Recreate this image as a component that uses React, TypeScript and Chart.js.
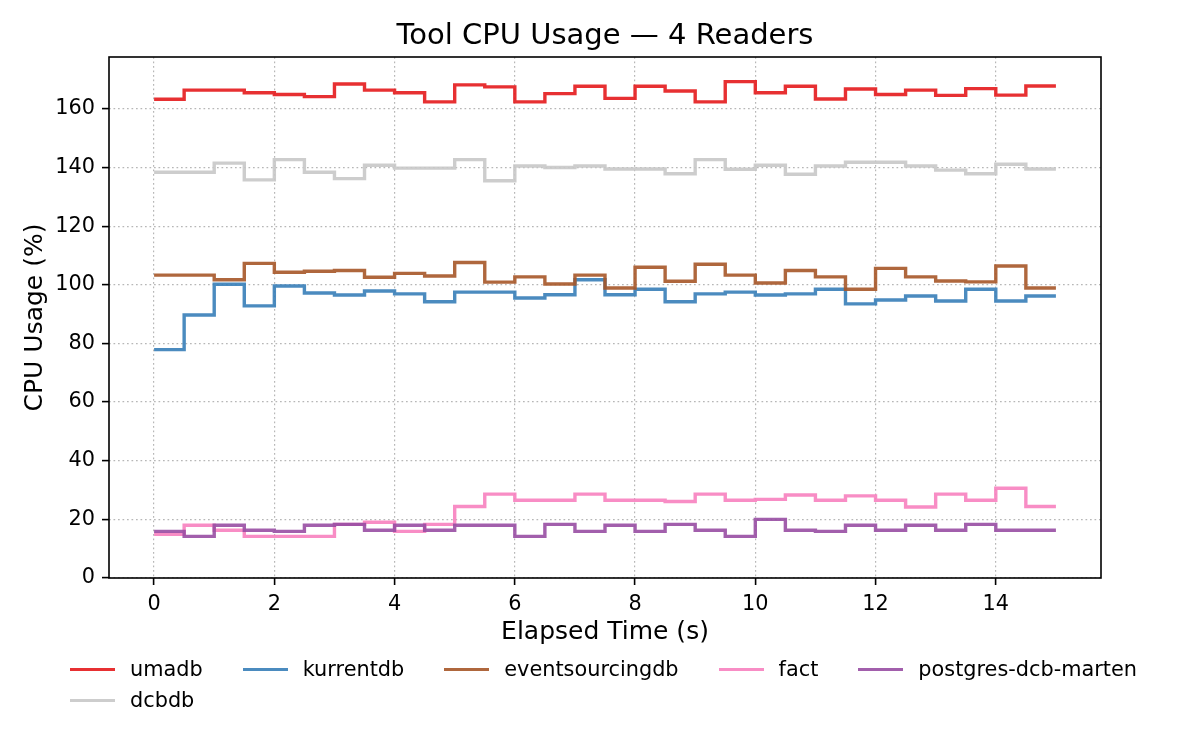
import { useEffect, useRef } from 'react';
import { Chart, registerables, ChartConfiguration, Plugin } from 'chart.js';

Chart.register(...registerables);

// sample times (s)
const timeSec = [
  0, 0.5, 1, 1.5, 2, 2.5, 3, 3.5, 4, 4.5, 5, 5.5, 6, 6.5, 7, 7.5,
  8, 8.5, 9, 9.5, 10, 10.5, 11, 11.5, 12, 12.5, 13, 13.5, 14, 14.5, 15,
];

// CPU usage (%) per tool
const umadb = [
  163.3, 166.4, 166.4, 165.5, 164.9, 164.2, 168.5, 166.4, 165.5, 162.4, 168.2,
  167.5, 162.4, 165.2, 167.7, 163.6, 167.7, 166.1, 162.4, 169.3, 165.5, 167.7,
  163.4, 166.8, 164.9, 166.4, 164.6, 166.9, 164.7, 167.8, 167.8,
];
const dcbdb = [
  138.4, 138.4, 141.5, 135.8, 142.7, 138.4, 136.2, 140.8, 139.8, 139.8, 142.7,
  135.5, 140.5, 140.0, 140.5, 139.5, 139.5, 137.9, 142.7, 139.4, 140.8, 137.7,
  140.5, 141.8, 141.8, 140.5, 139.1, 137.9, 141.1, 139.5, 139.5,
];
const kurrentdb = [
  77.9, 89.7, 100.2, 92.8, 99.6, 97.2, 96.5, 97.9, 96.9, 94.2, 97.5,
  97.5, 95.5, 96.6, 101.7, 96.6, 98.5, 94.2, 96.9, 97.5, 96.5, 96.9,
  98.5, 93.5, 94.8, 96.2, 94.5, 98.5, 94.5, 96.2, 96.2,
];
const eventsourcingdb = [
  103.3, 103.3, 101.7, 107.3, 104.3, 104.6, 104.9, 102.6, 103.9, 103.0, 107.6,
  100.9, 102.7, 100.3, 103.3, 98.9, 106.0, 101.2, 107.0, 103.3, 100.6, 104.9,
  102.7, 98.5, 105.6, 102.7, 101.3, 101.0, 106.4, 98.9, 98.9,
];
const fact = [
  14.9, 18.0, 16.3, 14.2, 14.2, 14.2, 18.3, 19.0, 15.9, 18.3, 24.4,
  28.6, 26.5, 26.5, 28.6, 26.5, 26.5, 26.1, 28.6, 26.5, 26.8, 28.3,
  26.5, 28.0, 26.5, 24.2, 28.6, 26.5, 30.6, 24.4, 24.4,
];
const postgresDcbMarten = [
  15.9, 14.2, 18.0, 16.3, 15.9, 18.0, 18.3, 16.3, 18.0, 16.3, 18.0,
  18.0, 14.2, 18.3, 15.9, 18.0, 15.9, 18.3, 16.3, 14.2, 20.0, 16.3,
  15.9, 18.0, 16.3, 18.0, 16.3, 18.3, 16.3, 16.3, 16.3,
];

const xTickValues = [0, 2, 4, 6, 8, 10, 12, 14];
const yTickValues = [0, 20, 40, 60, 80, 100, 120, 140, 160];

const series = [
  { label: 'umadb', values: umadb, color: 'rgba(228, 26, 28, 0.9)' },
  { label: 'dcbdb', values: dcbdb, color: 'rgba(200, 200, 200, 0.9)' },
  { label: 'kurrentdb', values: kurrentdb, color: 'rgba(55, 126, 184, 0.9)' },
  { label: 'eventsourcingdb', values: eventsourcingdb, color: 'rgba(166, 86, 40, 0.9)' },
  { label: 'fact', values: fact, color: 'rgba(247, 129, 191, 0.9)' },
  { label: 'postgres-dcb-marten', values: postgresDcbMarten, color: 'rgba(152, 78, 163, 0.9)' },
];

const legendOrder = ['umadb', 'kurrentdb', 'eventsourcingdb', 'fact', 'postgres-dcb-marten', 'dcbdb'];

const FONT = "'DejaVu Sans', sans-serif";

// black box round the plot area, like matplotlib spines
const framePlugin: Plugin<'line'> = {
  id: 'frame',
  afterDatasetsDraw(chart) {
    const { ctx, chartArea } = chart;
    ctx.save();
    ctx.strokeStyle = '#000';
    ctx.lineWidth = 1.6;
    ctx.strokeRect(chartArea.left, chartArea.top, chartArea.right - chartArea.left, chartArea.bottom - chartArea.top);
    ctx.restore();
  },
};

const gridOpts = {
  color: 'rgba(175, 175, 175, 0.9)',
  lineWidth: 1.2,
  borderDash: [1.7, 2.8],
  tickColor: '#000',
  tickWidth: 1.6,
  tickLength: 7,
  tickBorderDash: [],
};

export default function App() {
  const canvasRef = useRef<HTMLCanvasElement>(null);

  useEffect(() => {
    document.body.style.margin = '0';
    if (!canvasRef.current) return;

    const config: ChartConfiguration<'line'> = {
      type: 'line',
      data: {
        datasets: series.map((s, i) => ({
          label: s.label,
          data: timeSec.map((t, j) => ({ x: t, y: s.values[j] })),
          borderColor: s.color,
          backgroundColor: s.color,
          borderWidth: 3.4,
          pointRadius: 0,
          stepped: 'before',
          fill: false,
          order: series.length - i,
        })),
      },
      options: {
        responsive: false,
        animation: false,
        layout: { padding: { top: 57, right: 99, bottom: 92, left: 0 } },
        plugins: {
          legend: { display: false },
          title: { display: false },
          tooltip: { enabled: false },
        },
        scales: {
          x: {
            type: 'linear',
            min: -0.75,
            max: 15.75,
            afterBuildTicks: (scale) => {
              scale.ticks = xTickValues.map((v) => ({ value: v }));
            },
            afterFit: (scale) => {
              scale.height = 80;
            },
            grid: gridOpts,
            border: { display: false, dash: [1.7, 2.8] },
            ticks: {
              color: '#000',
              padding: 7,
              maxRotation: 0,
              autoSkip: false,
              font: { family: FONT, size: 20.8 },
            },
            title: {
              display: true,
              text: 'Elapsed Time (s)',
              color: '#000',
              font: { family: FONT, size: 25 },
              padding: { top: 0, bottom: 11 },
            },
          },
          y: {
            type: 'linear',
            min: 0,
            max: 177.7,
            afterBuildTicks: (scale) => {
              scale.ticks = yTickValues.map((v) => ({ value: v }));
            },
            afterFit: (scale) => {
              scale.width = 109;
            },
            grid: gridOpts,
            border: { display: false, dash: [1.7, 2.8] },
            ticks: {
              color: '#000',
              padding: 7,
              font: { family: FONT, size: 20.8 },
            },
            title: {
              display: true,
              text: 'CPU Usage (%)',
              color: '#000',
              font: { family: FONT, size: 25 },
              padding: { top: 20, bottom: 0 },
            },
          },
        },
      },
      plugins: [framePlugin],
    };

    const chart = new Chart(canvasRef.current, config);
    return () => chart.destroy();
  }, []);

  return (
    <div style={{ position: 'relative', width: 1200, height: 750, background: '#fff', fontFamily: FONT, color: '#000' }}>
      <canvas ref={canvasRef} width={1200} height={750} style={{ display: 'block' }} />
      <div
        style={{
          position: 'absolute',
          left: 109,
          width: 992,
          top: 17,
          lineHeight: '34px',
          fontSize: 29,
          textAlign: 'center',
        }}
      >
        Tool CPU Usage — 4 Readers
      </div>
      <div
        style={{
          position: 'absolute',
          left: 70,
          top: 653.5,
          display: 'grid',
          gridTemplateColumns: 'repeat(5, auto)',
          columnGap: 40,
          fontSize: 20.83,
          lineHeight: '31px',
        }}
      >
        {legendOrder.map((name) => {
          const s = series.find((x) => x.label === name)!;
          return (
            <div key={name} style={{ display: 'flex', alignItems: 'center' }}>
              <span style={{ width: 45, height: 3.4, background: s.color, flexShrink: 0, marginTop: 1 }} />
              <span style={{ marginLeft: 15, whiteSpace: 'nowrap' }}>{name}</span>
            </div>
          );
        })}
      </div>
    </div>
  );
}
